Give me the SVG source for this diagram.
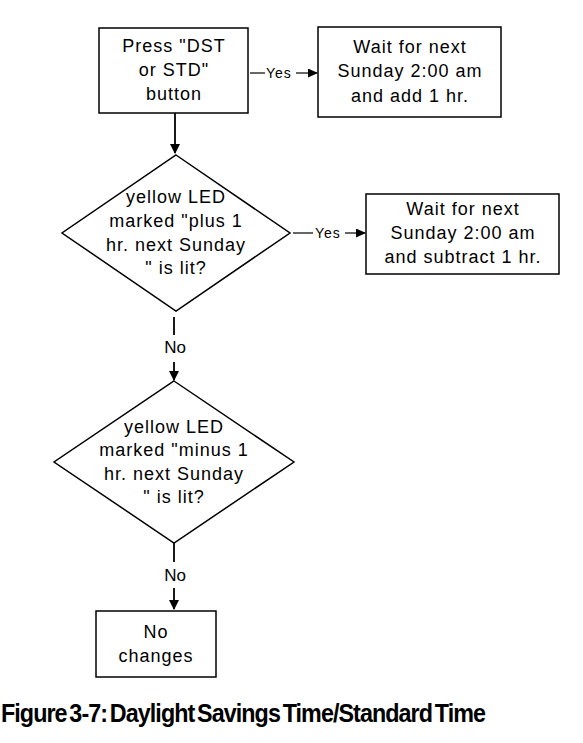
<svg xmlns="http://www.w3.org/2000/svg" width="583" height="743" viewBox="0 0 583 743">
<style>
.box{fill:#fff;stroke:#000;stroke-width:1.5}
.t{font-family:"Liberation Sans",Arial,sans-serif;font-size:18px;letter-spacing:1px;text-anchor:middle;fill:#000}
.lbl{font-family:"Liberation Sans",Arial,sans-serif;font-size:14px;letter-spacing:1px;fill:#000}
.no{font-family:"Liberation Sans",Arial,sans-serif;font-size:17px;text-anchor:middle;fill:#000}
.c{stroke:#000;stroke-width:1.8;fill:none}
.cy{stroke:#000;stroke-width:1.2;fill:none}
.cap{font-family:"Liberation Sans",Arial,sans-serif;font-size:25px;font-weight:bold;letter-spacing:-1px;word-spacing:-3px;fill:#000}
</style>
<defs>
<marker id="ah" markerWidth="10" markerHeight="10" refX="9" refY="5" orient="auto" markerUnits="userSpaceOnUse">
<path d="M0,0 L10,5 L0,10 Z" fill="#000"/>
</marker>
<marker id="ahs" markerWidth="10" markerHeight="10" refX="9" refY="4.5" orient="auto" markerUnits="userSpaceOnUse">
<path d="M0,0 L10,4.5 L0,9 Z" fill="#000"/>
</marker>
</defs>
<g id="connectors">
<line class="c" x1="175" y1="113" x2="175" y2="153" marker-end="url(#ah)"/>
<line class="cy" x1="250" y1="73" x2="265" y2="73"/>
<text class="lbl" x="266" y="78">Yes</text>
<line class="cy" x1="296" y1="73" x2="317" y2="73" marker-end="url(#ahs)"/>
<line class="cy" x1="293" y1="233" x2="313" y2="233"/>
<text class="lbl" x="315" y="238">Yes</text>
<line class="cy" x1="345" y1="233" x2="365" y2="233" marker-end="url(#ahs)"/>
<line class="c" x1="174" y1="317" x2="174" y2="335"/>
<text class="no" x="175" y="353">No</text>
<line class="c" x1="174" y1="362" x2="174" y2="380" marker-end="url(#ah)"/>
<line class="c" x1="174" y1="543" x2="174" y2="562"/>
<text class="no" x="175" y="581">No</text>
<line class="c" x1="174" y1="588" x2="174" y2="609" marker-end="url(#ah)"/>
</g>
<g id="press">
<rect class="box" x="99" y="28" width="149" height="85"/>
<text class="t" x="174" y="52">Press "DST</text>
<text class="t" x="174" y="76">or STD"</text>
<text class="t" x="174" y="100">button</text>
</g>
<g id="add">
<rect class="box" x="318" y="27" width="183" height="90"/>
<text class="t" x="410" y="53">Wait for next</text>
<text class="t" x="410" y="77">Sunday 2:00 am</text>
<text class="t" x="410" y="102">and add 1 hr.</text>
</g>
<g id="plus">
<polygon class="box" points="176,155 290,233 176,311 62,233"/>
<text class="t" x="176" y="203">yellow LED</text>
<text class="t" x="176" y="227">marked "plus 1</text>
<text class="t" x="176" y="251">hr. next Sunday</text>
<text class="t" x="176" y="274">" is lit?</text>
</g>
<g id="subtract">
<rect class="box" x="366" y="194" width="193" height="80"/>
<text class="t" x="463" y="215">Wait for next</text>
<text class="t" x="463" y="239">Sunday 2:00 am</text>
<text class="t" x="463" y="263">and subtract 1 hr.</text>
</g>
<g id="minus">
<polygon class="box" points="174,381 294,462 174,543 54,462"/>
<text class="t" x="174" y="433">yellow LED</text>
<text class="t" x="174" y="456">marked "minus 1</text>
<text class="t" x="174" y="480">hr. next Sunday</text>
<text class="t" x="174" y="503">" is lit?</text>
</g>
<g id="nochange">
<rect class="box" x="96" y="611" width="120" height="66"/>
<text class="t" x="156" y="638">No</text>
<text class="t" x="156" y="662">changes</text>
</g>
<text class="cap" x="1" y="722" textLength="484" lengthAdjust="spacingAndGlyphs">Figure 3-7: Daylight Savings Time/Standard Time</text>
</svg>
